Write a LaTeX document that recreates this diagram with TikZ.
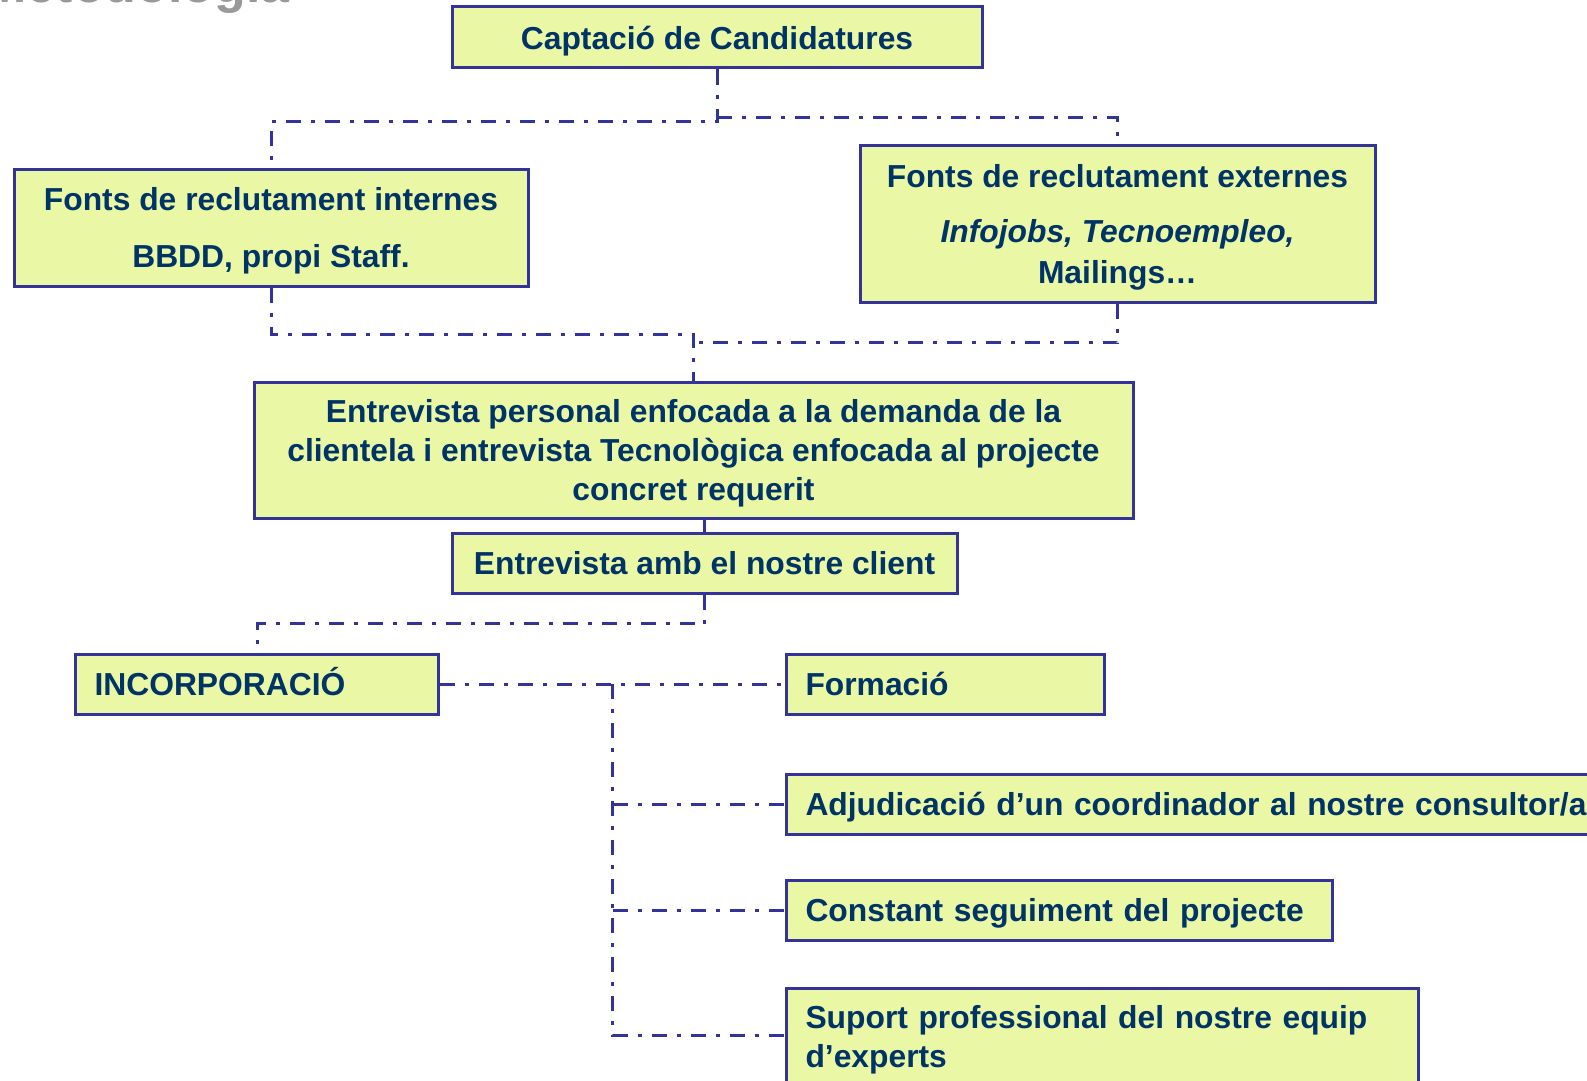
\documentclass[tikz,border=0pt]{standalone}
\usepackage{fontspec}
\setmainfont{Liberation Sans}
\usetikzlibrary{calc}
\definecolor{vora}{RGB}{51,51,153}
\definecolor{fons}{RGB}{234,248,166}
\definecolor{lletra}{RGB}{0,51,102}
\tikzset{
  caixa/.style={draw=vora, line width=3pt, fill=fons, text=lletra, inner sep=0pt,
    font=\fontsize{31.8}{39}\selectfont\bfseries, align=center},
  linia/.style={text height=27pt, text depth=4pt},
  esq/.style={inner xsep=19pt, align=left, anchor=west},
  enllac/.style={draw=vora, line width=3pt, dash pattern=on 15pt off 10pt on 4pt off 10pt}
}
\newcommand{\amunt}{\rule{0pt}{30pt}}

\begin{document}
\begin{tikzpicture}[x=1pt,y=-1pt]
\useasboundingbox (0,0) rectangle (1587,1081);
\clip (0,0) rectangle (1587,1081);
\node[anchor=base east, inner sep=0pt, text=gray!80, font=\fontsize{52}{60}\selectfont\bfseries] (titol) at (290,3) {Metodologia};
% caixes
\node[caixa, linia, minimum width=530pt, minimum height=61pt] (captacio) at (717,37.5) {Captació de Candidatures};
\node[caixa, minimum width=514pt, minimum height=117pt] (internes) at (271,227.5) {\amunt Fonts de reclutament internes\\[18pt]BBDD, propi Staff.};
\node[caixa, minimum width=515pt, minimum height=157pt] (externes) at (1117.5,223.5) {\amunt Fonts de reclutament externes\\[16pt]\textit{Infojobs, Tecnoempleo,}\\[2pt]Mailings…};
\node[caixa, minimum width=879pt, minimum height=136pt] (entrevista) at (693.5,450) {\amunt Entrevista personal enfocada a la demanda de la\\clientela i entrevista Tecnològica enfocada al projecte\\concret requerit};
\node[caixa, linia, minimum width=505pt, minimum height=60pt] (client) at (704.5,563) {Entrevista amb el nostre client};
\node[caixa, linia, esq, text width=325pt, minimum height=60pt] (incorporacio) at (74,684) {INCORPORACIÓ};
\node[caixa, linia, esq, text width=280pt, minimum height=60pt] (formacio) at (785,684) {Formació};
\node[caixa, linia, esq, text width=862pt, minimum height=60pt] (adjudicacio) at (785,804) {Adjudicació d’un coordinador al nostre consultor/a};
\node[caixa, linia, esq, text width=508pt, minimum height=60pt] (seguiment) at (785,910) {Constant seguiment del projecte};
\node[caixa, esq, anchor=north west, inner ysep=16.8pt, text width=594pt] (suport) at (785,987) {Suport professional del nostre equip\\d’experts\rule[-60pt]{0pt}{60pt}};
% enllacos
\draw[enllac] (captacio.south) -- ++(0,52) -| (internes.north);
\draw[enllac] ([yshift=-48pt]captacio.south) -| (externes.north);
\draw[enllac] (internes.south) -- ++(0,47) -| (entrevista.north);
\draw[enllac] (externes.south) -- ++(0,39) coordinate (dreta) -- (dreta -| entrevista.north);
\draw[enllac] (client.north |- entrevista.south) -- (client.north);
\draw[enllac] (client.south) -- ++(0,29) -| (incorporacio.north);
\draw[enllac] (incorporacio.east) -- (formacio.west);
\coordinate (tronc) at ($(incorporacio.east)!0.5!(formacio.west)$);
\draw[enllac] (tronc) |- ([yshift=-48pt]suport.north west);
\draw[enllac] (tronc |- adjudicacio.west) -- (adjudicacio.west);
\draw[enllac] (tronc |- seguiment.west) -- (seguiment.west);
\end{tikzpicture}
\end{document}
